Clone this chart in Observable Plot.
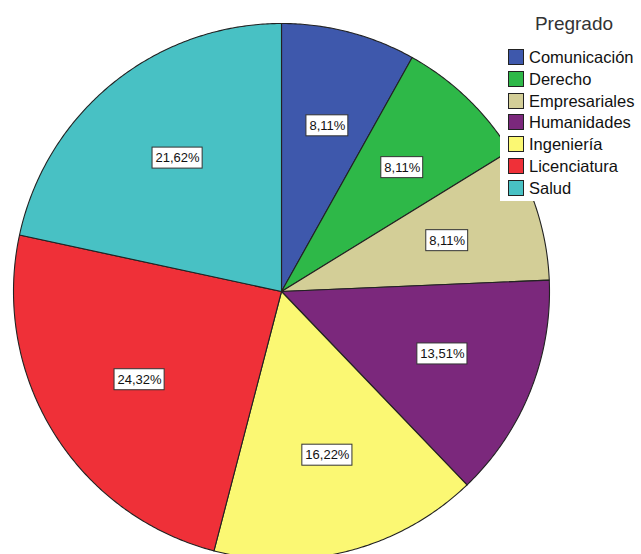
<!DOCTYPE html>
<html>
<head>
<meta charset="utf-8">
<script src="https://cdn.jsdelivr.net/npm/d3@7"></script>
<script src="https://cdn.jsdelivr.net/npm/@observablehq/plot@0.6"></script>
<style>
  html, body { margin: 0; padding: 0; background: #fff; }
  #wrap { position: relative; width: 641px; height: 554px; overflow: hidden; font-family: "Liberation Sans", Arial, sans-serif; }
  #legend { position: absolute; left: 500px; top: 0; width: 141px; height: 201px; background: #fff; }
  #legend .title { position: absolute; left: 0; width: 148px; top: 13px; text-align: center; font-size: 19px; color: #333; }
  #legend .item { position: absolute; left: 8px; height: 16px; font-size: 16.5px; color: #111; line-height: 16px; white-space: nowrap; }
  #legend .sw { display: inline-block; width: 14px; height: 14px; border: 1px solid #222; vertical-align: top; margin-right: 5px; }
</style>
</head>
<body>
<div id="wrap"><div id="chart"></div><div id="legend"></div></div>
<script>
const categories = ["Comunicación", "Derecho", "Empresariales", "Humanidades", "Ingeniería", "Licenciatura", "Salud"];
const counts = [3, 3, 3, 5, 6, 9, 8];
const colors = ["#3E58AC", "#2EB848", "#D3CE97", "#7B287C", "#FBF873", "#EF3038", "#48C1C4"];
const legendTitle = "Pregrado";

const total = d3.sum(counts);
const pctLabel = v => (v / total * 100).toFixed(2).replace(".", ",") + "%";

// layout constants (pixels)
const cx = 281, cy = 291, R = 268;
const pxPerUnit = R;

// slice polygons in unit-circle data space, clockwise from 12 o'clock
const slicePts = [];
const labels = [];
let acc = 0;
const ctx = document.createElement("canvas").getContext("2d");
ctx.font = "13px 'Liberation Sans', Arial, sans-serif";
categories.forEach((cat, i) => {
  const a0 = acc / total * 2 * Math.PI;
  acc += counts[i];
  const a1 = acc / total * 2 * Math.PI;
  slicePts.push({cat, x: 0, y: 0});
  const n = Math.max(2, Math.ceil((a1 - a0) / (Math.PI / 360)));
  for (let k = 0; k <= n; k++) {
    const a = a0 + (a1 - a0) * k / n;
    slicePts.push({cat, x: Math.sin(a), y: Math.cos(a)});
  }
  slicePts.push({cat, x: 0, y: 0});
  const am = (a0 + a1) / 2;
  const lr = 0.635;
  const text = pctLabel(counts[i]);
  const w = ctx.measureText(text).width + 6;
  const h = 21;
  const lx = lr * Math.sin(am) + 3 / pxPerUnit;
  const ly = lr * Math.cos(am) + 1 / pxPerUnit;
  labels.push({cat, text, x: lx, y: ly,
    x1: lx - w / 2 / pxPerUnit, x2: lx + w / 2 / pxPerUnit,
    y1: ly - h / 2 / pxPerUnit, y2: ly + h / 2 / pxPerUnit});
});

const chart = Plot.plot({
  width: 641,
  height: 554,
  margin: 0,
  style: {fontFamily: "'Liberation Sans', Arial, sans-serif", background: "transparent"},
  x: {domain: [-1, 1], range: [cx - R, cx + R], axis: null},
  y: {domain: [-1, 1], range: [cy + R, cy - R], axis: null},
  color: {domain: categories, range: colors},
  marks: [
    Plot.line(slicePts, {x: "x", y: "y", z: "cat", fill: "cat", stroke: "#222", strokeWidth: 1.1, strokeLinejoin: "round"}),
    Plot.rect(labels, {x1: "x1", x2: "x2", y1: "y1", y2: "y2", fill: "#fff", stroke: "#333", strokeWidth: 1}),
    Plot.text(labels, {x: "x", y: "y", text: "text", fontSize: 13, fill: "#111"})
  ]
});
document.getElementById("chart").appendChild(chart);

// legend
const leg = document.getElementById("legend");
const t = document.createElement("div");
t.className = "title";
t.textContent = legendTitle;
leg.appendChild(t);
categories.forEach((cat, i) => {
  const it = document.createElement("div");
  it.className = "item";
  it.style.top = (49 + i * 21.8) + "px";
  const sw = document.createElement("span");
  sw.className = "sw";
  sw.style.background = colors[i];
  it.appendChild(sw);
  it.appendChild(document.createTextNode(cat));
  leg.appendChild(it);
});
</script>
</body>
</html>
